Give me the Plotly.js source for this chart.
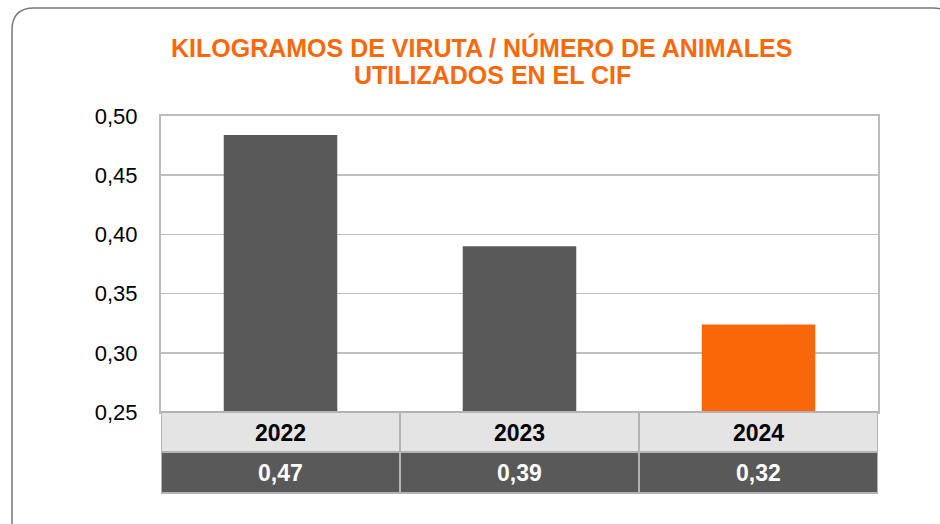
<!DOCTYPE html>
<html>
<head>
<meta charset="utf-8">
<script src="https://cdn.plot.ly/plotly-3.0.1.min.js"></script>
<style>html,body{margin:0;padding:0;background:#fff;}#chart{width:940px;height:524px;}</style>
</head>
<body>
<div id="chart"></div>
<script>
const categories = ['2022', '2023', '2024'];
const values = [0.484, 0.390, 0.324];
const tableLabels = ['0,47', '0,39', '0,32'];
const barColors = ['#595959', '#595959', '#f96709'];
const titleLines = ['KILOGRAMOS DE VIRUTA / NÚMERO DE ANIMALES', 'UTILIZADOS EN EL CIF'];

const W = 940, H = 524;
const L = 161, R = 878, T = 116, B = 412;
const px = x => (x - L) / (R - L);
const py = y => (B - y) / (B - T);

const FONT = 'Liberation Sans, Arial, sans-serif';

const shapes = [];
// outer rounded frame
shapes.push({
  type: 'path', xref: 'paper', yref: 'paper',
  path: `M ${px(12)},${py(530)} L ${px(12)},${py(30)} Q ${px(12)},${py(8)} ${px(34)},${py(8)} ` +
        `L ${px(933)},${py(8)} Q ${px(955)},${py(8)} ${px(955)},${py(30)} L ${px(955)},${py(508)} ` +
        `Q ${px(955)},${py(530)} ${px(933)},${py(530)} Z`,
  line: {color: '#7a7a7a', width: 1.5}, fillcolor: 'rgba(0,0,0,0)', layer: 'below'
});
const annotations = [];
// title lines
const titleX = [481, 492];
const titleY = [48, 75];
titleLines.forEach((t, i) => {
  annotations.push({xref: 'paper', yref: 'paper', x: px(titleX[i]), y: py(titleY[i]),
    text: '<b>' + t + '</b>', showarrow: false, xanchor: 'center', yanchor: 'middle',
    font: {family: FONT, size: 25, color: '#f7690c'}});
});
categories.forEach((c, i) => {
  shapes.push({type: 'rect', xref: 'x', yref: 'paper', x0: i - 0.5, x1: i + 0.5,
    y0: py(452), y1: py(412), fillcolor: '#e4e4e4', line: {color: '#b3b3b3', width: 2}});
  shapes.push({type: 'rect', xref: 'x', yref: 'paper', x0: i - 0.5, x1: i + 0.5,
    y0: py(493), y1: py(452), fillcolor: '#595959', line: {color: '#b3b3b3', width: 2}});
  annotations.push({xref: 'x', yref: 'paper', x: i, y: py(433), text: '<b>' + c + '</b>',
    showarrow: false, font: {family: FONT, size: 23, color: '#000'}, xanchor: 'center', yanchor: 'middle'});
  annotations.push({xref: 'x', yref: 'paper', x: i, y: py(473), text: '<b>' + tableLabels[i] + '</b>',
    showarrow: false, font: {family: FONT, size: 23, color: '#fff'}, xanchor: 'center', yanchor: 'middle'});
});

const data = [{
  type: 'bar', x: categories, y: values, width: 0.475,
  marker: {color: barColors, line: {width: 0}},
  hoverinfo: 'skip'
}];

const layout = {
  width: W, height: H,
  margin: {l: L, r: W - R, t: T, b: H - B, pad: 0},
  paper_bgcolor: 'rgba(0,0,0,0)', plot_bgcolor: '#fff',
  separators: ',.',
  showlegend: false,
  xaxis: {type: 'category', range: [-0.5, 2.5], showticklabels: false, showgrid: false,
    showline: true, mirror: true, linecolor: '#bcbcbc', linewidth: 2, zeroline: false, fixedrange: true},
  yaxis: {range: [0.25, 0.50], dtick: 0.05, tick0: 0.25, tickformat: '.2f',
    showgrid: true, gridcolor: '#c0c0c0', gridwidth: 1.5,
    showline: true, mirror: true, linecolor: '#bcbcbc', linewidth: 2, zeroline: false,
    ticks: '', ticklabelstandoff: 17,
    tickfont: {family: FONT, size: 22, color: '#000'}, fixedrange: true},
  shapes: shapes,
  annotations: annotations
};

Plotly.newPlot('chart', data, layout, {staticPlot: true, displayModeBar: false});
</script>
</body>
</html>
